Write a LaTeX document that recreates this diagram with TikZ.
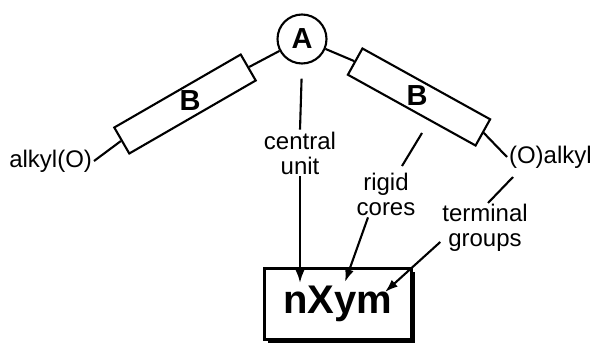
\documentclass[tikz,border=0pt]{standalone}
\usepackage{fontspec}
\setmainfont{Liberation Sans}
\usetikzlibrary{arrows.meta,shadows}
\begin{document}
\begin{tikzpicture}[x=1pt,y=-1pt,
  line width=2.1pt,
  txt/.style={font=\fontsize{24}{25}\selectfont, inner sep=1pt, align=center},
  core/.style={draw, fill=white, minimum width=146pt, minimum height=30pt, inner sep=0pt},
  bold/.style={font=\fontsize{29}{30}\selectfont\bfseries, inner sep=0pt},
  unit/.style={draw, circle, minimum size=49pt, inner sep=0pt, font=\fontsize{29}{30}\selectfont\bfseries},
  arr/.style={-{Latex[length=13pt,width=9pt]}},
  result/.style={draw, fill=white, minimum width=147pt, minimum height=71pt, inner sep=0pt,
    font=\fontsize{40}{41}\selectfont\bfseries,
    drop shadow={shadow xshift=3pt, shadow yshift=-3pt, fill=black, opacity=1}}
]
\useasboundingbox (0,0) rectangle (593,343);

% central unit and the two rigid cores
\node[unit] (A) at (302,39) {A};
\node[core, rotate=30]  (B1) at (185,104) {};
\node[core, rotate=-29] (B2) at (419,97) {};
\node[bold] at (190,101) {B};
\node[bold] at (417,96) {B};

% terminal chains
\node[txt, anchor=east] (lO) at (94,161) {alkyl(O)};
\node[txt, anchor=west] (rO) at (507,157) {(O)alkyl};
\draw (A) -- (B1.east);
\draw (A) -- (B2.west);
\draw (B1.west) -- (lO.east);
\draw (B2.east) -- (rO.west);

% descriptive labels
\node[txt] (cu) at (300,153) {central\\unit};
\node[txt] (rc) at (386,194) {rigid\\cores};
\node[txt] (tg) at (485,228) {terminal\\groups};

% resulting acronym
\node[result] (box) at (338,304) {nXym};

\coordinate (rcTop) at (422,133);
\coordinate (rcEnd) at (402,166);
\coordinate (tgTop) at (513,177);
\coordinate (tgEnd) at (488,203);
\coordinate (hitA) at (300,283);
\coordinate (hitB) at (345,282);
\coordinate (hitT) at (385,292);

\draw[shorten <=14pt] (A.south) -- (cu.north);
\draw (rcTop) -- (rcEnd);
\draw (tgTop) -- (tgEnd);
\draw[arr] (cu.south) -- (hitA);
\draw[arr] ([xshift=-18pt]rc.south) -- (hitB);
\draw[arr] ([yshift=-14pt]tg.west) -- (hitT);
\end{tikzpicture}
\end{document}
